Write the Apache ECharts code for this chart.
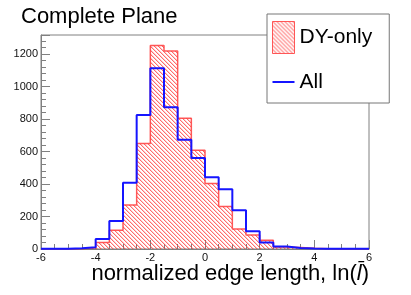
<!DOCTYPE html>
<html>
<head>
<meta charset="utf-8">
<script src="https://cdn.jsdelivr.net/npm/echarts@6/dist/echarts.min.js"></script>
<style>
html,body{margin:0;padding:0;background:#fff;}
#chart{width:411px;height:295px;}
</style>
</head>
<body>
<div id="chart"></div>
<script>
// Bin lower edges (bin width 0.5), upper limit of last bin
const binLow = [-6,-5.5,-5,-4.5,-4,-3.5,-3,-2.5,-2,-1.5,-1,-0.5,0,0.5,1,1.5,2,2.5,3,3.5,4,4.5,5,5.5];
const binHighLast = 6;
// DY-only histogram contents
const dyOnly = [0,0,2,8,40,115,271,650,1252,1218,804,607,403,262,123,86,54,13,9,5,2,0,0,0];
// All histogram contents
const allVals = [1,2,5,11,61,173,408,825,1113,873,673,560,441,367,238,109,40,15,6,3,2,1,1,1];
const xTicks = [-6,-4,-2,0,2,4,6];
const seriesNames = ['DY-only','All'];
const chartTitle = 'Complete Plane';
const xTitle = 'normalized edge length, ln(';

function stepData(vals){
  const d = binLow.map((x,i)=>[x, vals[i]]);
  d.push([binHighLast, vals[vals.length-1]]);
  return d;
}

function makeHatch(){
  const c = document.createElement('canvas');
  c.width = 4; c.height = 4;
  const g = c.getContext('2d');
  for(let i=0;i<4;i++){
    g.fillStyle = 'rgba(255,60,60,0.75)';
    g.fillRect(i,i,1,1);
    g.fillStyle = 'rgba(255,0,0,0.2)';
    g.fillRect((i+1)%4,i,1,1);
  }
  return c;
}
const hatch = {image: makeHatch(), repeat: 'repeat'};

const FONT = 'Liberation Sans, Arial, Helvetica, sans-serif';
const chart = echarts.init(document.getElementById('chart'), null, {renderer:'canvas'});
chart.setOption({
  animation: false,
  backgroundColor: '#fff',
  textStyle: {fontFamily: FONT},
  title: [
    {
      text: chartTitle,
      left: 16, top: 1,
      textStyle: {fontSize: 22, fontWeight: 'normal', color: '#000', fontFamily: FONT}
    },
    {
      text: xTitle + '{i|l\u0304})',
      right: 42, top: 263,
      padding: 0,
      textStyle: {fontSize: 22, fontWeight: 'normal', color: '#000', fontFamily: FONT,
        rich: {i: {fontSize: 22, fontStyle: 'italic', color: '#000', fontFamily: FONT}}}
    }
  ],
  legend: {
    orient: 'vertical',
    left: 267, top: 14,
    padding: [7, 17, 5, 5],
    itemWidth: 22, itemHeight: 32, itemGap: 12,
    borderColor: '#777', borderWidth: 1, borderRadius: 0,
    backgroundColor: '#fff',
    textStyle: {fontSize: 21, color: '#000', fontFamily: FONT},
    data: [
      {name: seriesNames[0], icon: 'rect',
       itemStyle: {color: hatch, borderColor: 'rgba(255,60,60,0.85)', borderWidth: 1}},
      {name: seriesNames[1],
       icon: 'path://M0,0h0.01v0.01h-0.01z M0,15h22v2h-22z M21.99,31.99h0.01v0.01h-0.01z',
       itemStyle: {color: '#1515ff'}}
    ]
  },
  grid: {
    left: 41, right: 42, top: 35, bottom: 46,
    outerBoundsMode: 'none', containLabel: false,
    show: true, borderColor: '#808080', borderWidth: 1, backgroundColor: 'transparent'
  },
  xAxis: {
    type: 'value', min: xTicks[0], max: xTicks[xTicks.length-1], interval: 2,
    axisLine: {show: true, onZero: false, lineStyle: {color: '#808080', width: 1}},
    axisTick: {show: true, inside: true, length: 9, lineStyle: {color: '#808080'}},
    minorTick: {show: true, splitNumber: 4, length: 5, lineStyle: {color: '#808080'}},
    splitLine: {show: false},
    axisLabel: {fontSize: 11, color: '#111', margin: 3, fontFamily: FONT,
      formatter: v => String(v)}
  },
  yAxis: {
    type: 'value', min: 0, max: 1317, interval: 200,
    axisLine: {show: true, onZero: false, lineStyle: {color: '#808080', width: 1}},
    axisTick: {show: true, inside: true, length: 9, lineStyle: {color: '#808080'}},
    minorTick: {show: true, splitNumber: 5, length: 5, lineStyle: {color: '#808080'}},
    splitLine: {show: false},
    axisLabel: {fontSize: 11, color: '#111', margin: 3, showMaxLabel: false, fontFamily: FONT,
      formatter: v => String(v)}
  },
  series: [
    {
      name: seriesNames[0], type: 'line', step: 'end', symbol: 'none',
      data: stepData(dyOnly),
      lineStyle: {color: 'rgba(255,60,60,0.85)', width: 1.5},
      itemStyle: {color: 'rgba(255,60,60,0.85)'},
      areaStyle: {color: hatch, opacity: 1},
      z: 2
    },
    {
      name: seriesNames[1], type: 'line', step: 'end', symbol: 'none',
      data: stepData(allVals),
      lineStyle: {color: '#1515ff', width: 2},
      itemStyle: {color: '#1515ff'},
      z: 3
    }
  ]
});
</script>
</body>
</html>
